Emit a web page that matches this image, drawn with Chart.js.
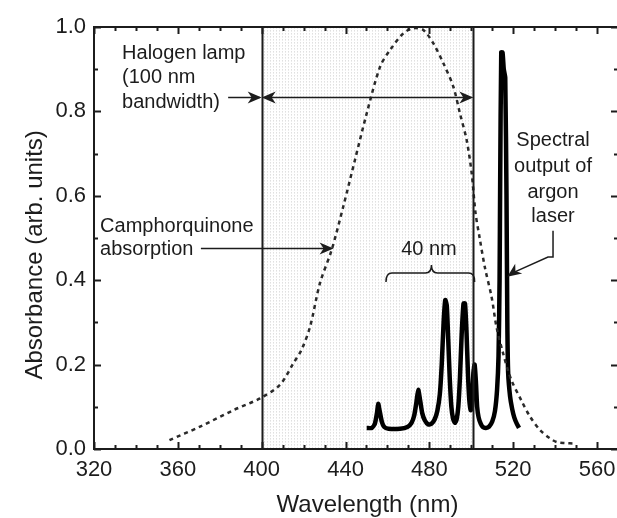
<!DOCTYPE html>
<html>
<head>
<meta charset="utf-8">
<script src="https://cdn.jsdelivr.net/npm/chart.js@4.4.0/dist/chart.umd.min.js"></script>
<style>
  html, body { margin: 0; padding: 0; background: #fff; overflow: hidden; }
  #wrap { width: 625px; height: 518px; }
</style>
</head>
<body>
<div id="wrap"><canvas id="chart" width="625" height="518"></canvas></div>
<script>
// axis ranges / ticks
const xRange = [320, 570];
const yRange = [0, 1.0];

// camphorquinone absorption (dotted)
const cqWavelength = [356, 370.6, 386.5, 399.2, 408.7, 415.1, 419, 423.1, 427.8, 433.4, 438.9, 444.5, 450.1,
  456.5, 461.2, 467.6, 472.3, 477.1, 481.9, 486.7, 491.4, 494.6, 497.8, 500.2, 502, 504, 506.5, 509.7, 512,
  515, 519, 524, 528, 532.8, 537.6, 541, 545, 549];
const cqAbsorbance = [0.021, 0.053, 0.092, 0.12, 0.152, 0.203, 0.235, 0.29, 0.393, 0.472, 0.574, 0.685, 0.795,
  0.906, 0.945, 0.985, 0.997, 0.993, 0.961, 0.914, 0.859, 0.795, 0.732, 0.653, 0.56, 0.5, 0.43, 0.36, 0.29,
  0.23, 0.165, 0.114, 0.077, 0.045, 0.025, 0.016, 0.014, 0.013];

// argon laser spectral output (solid)
const laserWavelength = [450.1, 452.5, 454.0, 455.0, 455.6, 456.3, 457.3, 458.5, 460.5, 466.0,
  469.5, 471.5, 472.8, 473.8, 474.7, 475.6, 476.6, 477.8, 479.5, 481.0,
  482.5, 483.8, 485.0, 485.9, 486.8, 487.6, 488.3, 489.0, 489.7, 490.5,
  491.3, 492.2, 493.0, 493.8, 494.6, 495.4, 496.3, 497.0, 497.7, 498.4,
  499.0, 499.7, 500.3, 501.0, 501.6, 502.2, 502.8, 503.5, 504.5, 505.5,
  507.0, 508.5, 510.0, 511.3, 512.3, 513.0, 513.5, 513.8, 514.3, 514.9,
  515.5, 516.2, 516.8, 517.2, 517.6, 518.5, 519.5, 520.5, 521.7, 522.8];
const laserOutput = [0.05, 0.05, 0.06, 0.085, 0.107, 0.09, 0.065, 0.052, 0.048, 0.048,
  0.052, 0.062, 0.08, 0.11, 0.14, 0.115, 0.085, 0.068, 0.058, 0.06,
  0.07, 0.09, 0.13, 0.2, 0.3, 0.353, 0.34, 0.26, 0.17, 0.1,
  0.072, 0.062, 0.07, 0.1, 0.17, 0.27, 0.345, 0.345, 0.28, 0.18,
  0.12, 0.092, 0.1, 0.18, 0.2, 0.16, 0.1, 0.075, 0.06, 0.052,
  0.05, 0.053, 0.065, 0.09, 0.14, 0.22, 0.4, 0.645, 0.94, 0.94,
  0.9, 0.88, 0.6, 0.3, 0.18, 0.125, 0.095, 0.075, 0.06, 0.05];

// halogen lamp band edges (nm)
const halogenBand = [400, 501];

const FONT = "'Liberation Sans', Arial, sans-serif";
const INK = "#1c1c1c";

function toPoints(xs, ys) {
  return xs.map((x, i) => ({ x: x, y: ys[i] }));
}

function makePattern(ctx) {
  const c = document.createElement("canvas");
  c.width = 3; c.height = 3;
  const p = c.getContext("2d");
  p.fillStyle = "#ffffff";
  p.fillRect(0, 0, 3, 3);
  p.fillStyle = "#e0e0e0";
  p.fillRect(0, 0, 1, 1);
  p.fillStyle = "#ececec";
  p.fillRect(0, 1, 1, 1);
  return ctx.createPattern(c, "repeat");
}

function arrowHead(ctx, x, y, angle) {
  ctx.save();
  ctx.translate(x, y);
  ctx.rotate(angle);
  ctx.beginPath();
  ctx.moveTo(0, 0);
  ctx.lineTo(-14, -6);
  ctx.lineTo(-10, 0);
  ctx.lineTo(-14, 6);
  ctx.closePath();
  ctx.fill();
  ctx.restore();
}

function line(ctx, pts, width) {
  ctx.beginPath();
  ctx.lineWidth = width;
  ctx.moveTo(pts[0][0], pts[0][1]);
  for (let i = 1; i < pts.length; i++) ctx.lineTo(pts[i][0], pts[i][1]);
  ctx.stroke();
}

const decorations = {
  id: "decorations",
  beforeDatasetsDraw(chart) {
    const { ctx, chartArea: a } = chart;
    const xs = chart.scales.x;
    const x0 = xs.getPixelForValue(halogenBand[0]);
    const x1 = xs.getPixelForValue(halogenBand[1]);
    ctx.save();
    ctx.fillStyle = makePattern(ctx);
    ctx.fillRect(x0, a.top, x1 - x0, a.bottom - a.top);
    ctx.restore();
  },
  afterDatasetsDraw(chart) {
    const { ctx, chartArea: a } = chart;
    const xs = chart.scales.x, ys = chart.scales.y;
    const px = (v) => xs.getPixelForValue(v);
    const py = (v) => ys.getPixelForValue(v);

    ctx.save();
    ctx.strokeStyle = INK;
    ctx.fillStyle = INK;

    // band edges
    halogenBand.forEach((w) => {
      line(ctx, [[Math.round(px(w)) + 0.5, a.bottom], [Math.round(px(w)) + 0.5, a.top]], 2);
    });

    // frame
    ctx.lineWidth = 2;
    ctx.strokeRect(a.left, a.top, a.right - a.left, a.bottom - a.top);

    // inward ticks on all four sides
    for (let v = xRange[0]; v <= xRange[1]; v += 10) {
      const major = (v - xRange[0]) % 40 === 0;
      const len = major ? 7 : 4;
      const x = Math.round(px(v)) + 0.5;
      line(ctx, [[x, a.bottom], [x, a.bottom - len]], 2);
      line(ctx, [[x, a.top], [x, a.top + len]], 2);
    }
    for (let i = 0; i <= 10; i++) {
      const len = i % 2 === 0 ? 7 : 4;
      const y = Math.round(py(i / 10)) + 0.5;
      line(ctx, [[a.left, y], [a.left + len, y]], 2);
      line(ctx, [[a.right, y], [a.right - len, y]], 2);
    }

    ctx.font = "20px " + FONT;
    ctx.textBaseline = "alphabetic";

    // halogen lamp annotation
    ctx.textAlign = "left";
    ctx.fillText("Halogen lamp", px(333.4), py(0.924));
    ctx.fillText("(100 nm", px(333.4), py(0.867));
    ctx.fillText("bandwidth)", px(333.4), py(0.808));
    const yH = Math.round(py(0.834)) + 0.5;
    line(ctx, [[px(384), yH], [px(halogenBand[0]) - 2, yH]], 1.5);
    arrowHead(ctx, px(halogenBand[0]), yH, 0);
    line(ctx, [[px(halogenBand[0]) + 4, yH], [px(halogenBand[1]) - 4, yH]], 1.5);
    arrowHead(ctx, px(halogenBand[0]), yH, Math.PI);
    arrowHead(ctx, px(halogenBand[1]), yH, 0);

    // camphorquinone annotation
    ctx.fillText("Camphorquinone", px(322.9), py(0.514));
    ctx.fillText("absorption", px(322.9), py(0.46));
    const yC = Math.round(py(0.476)) + 0.5;
    line(ctx, [[px(371), yC], [px(433), yC]], 1.5);
    arrowHead(ctx, px(434.3), yC, 0);

    // 40 nm brace
    ctx.textAlign = "center";
    ctx.fillText("40 nm", px(479.8), py(0.46));
    const bL = px(459.3), bR = px(501.6), bM = px(481);
    const yB = py(0.417), yEnd = py(0.396), yTip = py(0.436);
    ctx.lineWidth = 1.5;
    ctx.beginPath();
    ctx.moveTo(bL, yEnd);
    ctx.quadraticCurveTo(bL, yB, bL + 6, yB);
    ctx.lineTo(bM - 6, yB);
    ctx.quadraticCurveTo(bM, yB, bM, yTip);
    ctx.quadraticCurveTo(bM, yB, bM + 6, yB);
    ctx.lineTo(bR - 6, yB);
    ctx.quadraticCurveTo(bR, yB, bR, yEnd);
    ctx.stroke();

    // argon laser annotation
    ctx.fillText("Spectral", px(539), py(0.718));
    ctx.fillText("output of", px(539), py(0.656));
    ctx.fillText("argon", px(539), py(0.595));
    ctx.fillText("laser", px(539), py(0.538));
    line(ctx, [[px(539), py(0.517)], [px(539), py(0.455)], [px(536.6), py(0.455)], [px(520), py(0.418)]], 1.5);
    const ang = Math.atan2(py(0.408) - py(0.418), px(517.2) - px(520));
    arrowHead(ctx, px(517.2), py(0.408), ang);

    // axis titles
    ctx.font = "24px " + FONT;
    ctx.textAlign = "center";
    ctx.fillText("Wavelength (nm)", px(450.5), a.bottom + 63);
    ctx.save();
    ctx.translate(a.left - 59, py(0.46));
    ctx.rotate(-Math.PI / 2);
    ctx.textBaseline = "middle";
    ctx.fillText("Absorbance (arb. units)", 0, 0);
    ctx.restore();

    ctx.restore();
  }
};

new Chart(document.getElementById("chart"), {
  type: "line",
  data: {
    datasets: [
      {
        label: "Camphorquinone absorption",
        data: toPoints(cqWavelength, cqAbsorbance),
        borderColor: "#2a2a2a",
        borderWidth: 2.5,
        borderDash: [4, 4],
        pointRadius: 0,
        tension: 0.3,
        fill: false
      },
      {
        label: "Argon laser output",
        data: toPoints(laserWavelength, laserOutput),
        borderColor: "#000000",
        borderWidth: 4.5,
        pointRadius: 0,
        tension: 0.2,
        borderJoinStyle: "round",
        fill: false
      }
    ]
  },
  options: {
    responsive: false,
    animation: false,
    devicePixelRatio: 1,
    layout: { padding: { top: 27, right: 7, bottom: 0, left: 0 } },
    plugins: { legend: { display: false }, tooltip: { enabled: false } },
    scales: {
      x: {
        type: "linear",
        min: xRange[0],
        max: xRange[1],
        grid: { display: false, drawTicks: false },
        border: { display: false },
        ticks: {
          stepSize: 40,
          includeBounds: false,
          padding: 8,
          color: INK,
          font: { family: FONT, size: 22 },
          maxRotation: 0
        },
        afterFit: (scale) => { scale.height = 69; }
      },
      y: {
        type: "linear",
        min: yRange[0],
        max: yRange[1],
        grid: { display: false, drawTicks: false },
        border: { display: false },
        ticks: {
          stepSize: 0.2,
          padding: 8,
          color: INK,
          font: { family: FONT, size: 22 },
          callback: (v) => v.toFixed(1)
        },
        afterFit: (scale) => { scale.width = 94; }
      }
    }
  },
  plugins: [decorations]
});
</script>
</body>
</html>
